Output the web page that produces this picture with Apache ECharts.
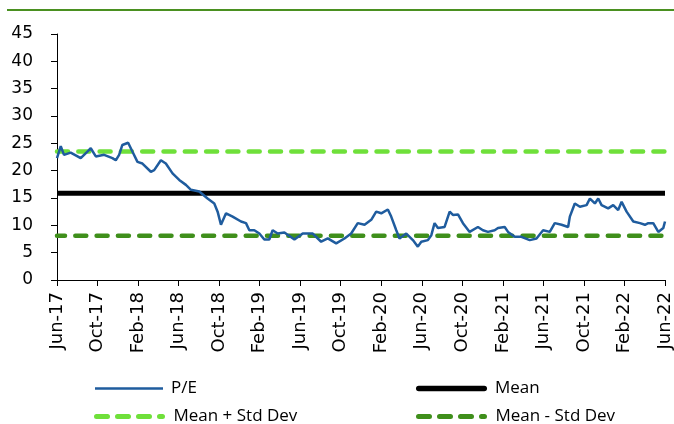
<!DOCTYPE html>
<html>
<head>
<meta charset="utf-8">
<style>
  html, body { margin: 0; padding: 0; background: #fff; }
  #chart { width: 674px; height: 424px; }
</style>
<script src="https://cdn.jsdelivr.net/npm/echarts@6/dist/echarts.min.js"></script>
</head>
<body>
<div id="chart"></div>
<script>
// Tick labels along the x axis, one every 4 months starting Jun-17
const tickLabels = ['Jun-17','Oct-17','Feb-18','Jun-18','Oct-18','Feb-19','Jun-19','Oct-19',
                    'Feb-20','Jun-20','Oct-20','Feb-21','Jun-21','Oct-21','Feb-22','Jun-22'];

// P/E observations: months elapsed since Jun-17, and the ratio
const peMonths = [0, 0.37, 0.69, 1.35, 2.34, 3.0, 3.33, 3.83, 4.65, 5.47, 5.8, 6.13, 6.45, 7.02, 7.44,
  7.94, 8.43, 9.26, 9.59, 10.25, 10.74, 11.4, 12.06, 12.72, 13.22, 14.04, 14.86, 15.52, 15.85, 16.18,
  16.68, 17.33, 18.16, 18.65, 18.98, 19.47, 19.97, 20.46, 20.95, 21.28, 21.78, 22.44, 23.43, 24.25,
  25.24, 26.07, 26.72, 27.55, 28.37, 29.03, 29.68, 30.35, 31.01, 31.5, 32.0, 32.65, 32.98, 33.48,
  33.8, 34.47, 35.12, 35.61, 35.95, 36.6, 36.94, 37.26, 37.59, 38.25, 38.75, 39.07, 39.57, 40.06,
  40.72, 41.54, 42.03, 42.53, 43.19, 43.52, 44.18, 44.51, 45.17, 45.83, 46.65, 47.32, 47.97, 48.63,
  49.12, 49.79, 50.44, 50.61, 51.1, 51.6, 52.26, 52.59, 53.08, 53.41, 53.74, 54.39, 54.89, 55.38,
  55.72, 56.21, 56.87, 57.53, 58.02, 58.35, 58.84, 59.34, 59.83, 60];
const peValues = [22.3, 24.5, 22.9, 23.3, 22.3, 23.5, 24.1, 22.6, 22.9, 22.3, 21.9, 22.9, 24.7, 25.1, 23.5,
  21.6, 21.3, 19.8, 20.1, 21.9, 21.3, 19.5, 18.3, 17.4, 16.5, 16.2, 14.9, 14.0, 12.5, 10.1,
  12.2, 11.6, 10.7, 10.4, 9.1, 9.1, 8.5, 7.4, 7.4, 9.1, 8.5, 8.7, 7.4, 8.5,
  8.5, 7.0, 7.6, 6.7, 7.6, 8.5, 10.4, 10.1, 11.0, 12.5, 12.2, 12.9, 11.6, 9.1,
  7.6, 8.5, 7.3, 6.1, 7.0, 7.3, 8.2, 10.4, 9.5, 9.7, 12.5, 11.9, 12.0, 10.4,
  8.8, 9.7, 9.1, 8.8, 9.1, 9.5, 9.7, 8.8, 7.9, 7.9, 7.3, 7.6, 9.1, 8.8,
  10.4, 10.1, 9.7, 11.6, 14.0, 13.4, 13.7, 14.9, 14.0, 14.9, 13.7, 13.1, 13.7, 12.8,
  14.3, 12.5, 10.7, 10.4, 10.1, 10.4, 10.4, 8.8, 9.5, 10.7];

// Reference levels
const meanValue = 15.85;
const upperBand = 23.5;
const lowerBand = 8.1;
const spanMonths = [0, 60];

const chart = echarts.init(document.getElementById('chart'), null, { renderer: 'canvas' });
const axisFont = '"DejaVu Sans", sans-serif';
const legendFont = '"Open Sans", "Liberation Sans", sans-serif';

const flat = v => spanMonths.map(m => [m, v]);

// Rounded bar path segment from x=a to x=b, height h
function pill(a, b, h) {
  const r = h / 2;
  return `M${a + r},0 H${b - r} A${r},${r} 0 0 1 ${b - r},${h} H${a + r} A${r},${r} 0 0 1 ${a + r},0 Z`;
}
const dashedIcon = 'path://' + [pill(0, 16, 5), pill(21, 37, 5), pill(42, 58, 5), pill(63, 71, 5)].join(' ');
const solidIcon = 'path://' + pill(0, 71, 5.5);

function legendAt(name, left, top, icon, w, h) {
  return {
    data: [{ name: name, icon: icon }], left: left, top: top, itemWidth: w, itemHeight: h, itemGap: 4,
    padding: 0,
    itemStyle: { borderWidth: 0 },
    textStyle: { fontFamily: legendFont, fontSize: 17, color: '#000', padding: [0, 0, 0, 3] },
    selectedMode: false
  };
}

chart.setOption({
  animation: false,
  backgroundColor: '#fff',
  graphic: [{
    type: 'line', shape: { x1: 7, y1: 10, x2: 674, y2: 10 },
    style: { stroke: '#4a9020', lineWidth: 2 }
  }],
  grid: { left: 57, right: 8, top: 34, bottom: 144, containLabel: false },
  legend: [
    legendAt('P/E', 95, 380, 'rect', 68, 2.5),
    legendAt('Mean', 416, 380, solidIcon, 71, 5.5),
    legendAt('Mean + Std Dev', 94, 408, dashedIcon, 72, 5),
    legendAt('Mean - Std Dev', 416, 408, dashedIcon, 72, 5)
  ],
  xAxis: {
    type: 'value', min: 0, max: 60, interval: 4,
    splitLine: { show: false },
    axisLine: { lineStyle: { color: '#000', width: 1 } },
    axisTick: { show: true, length: 6, lineStyle: { color: '#000' } },
    axisLabel: {
      rotate: 90, margin: 12, color: '#000', fontFamily: axisFont, fontSize: 18,
      formatter: v => tickLabels[Math.round(v / 4)] || ''
    }
  },
  yAxis: {
    type: 'value', min: 0, max: 45, interval: 5,
    splitLine: { show: false },
    axisLine: { show: true, lineStyle: { color: '#000', width: 1 } },
    axisTick: { show: true, length: 6, lineStyle: { color: '#000' } },
    axisLabel: { color: '#000', fontFamily: axisFont, fontSize: 17, margin: 24 }
  },
  series: [
    {
      name: 'P/E', type: 'line', symbol: 'none', z: 4,
      data: peMonths.map((m, i) => [m, peValues[i]]),
      lineStyle: { color: '#1f5c9e', width: 2.5 },
      itemStyle: { color: '#1f5c9e', borderWidth: 0 }
    },
    {
      name: 'Mean', type: 'line', symbol: 'none', z: 3,
      data: flat(meanValue),
      lineStyle: { color: '#000', width: 5 },
      itemStyle: { color: '#000', borderWidth: 0 }
    },
    {
      name: 'Mean + Std Dev', type: 'line', symbol: 'none', z: 3,
      data: flat(upperBand),
      lineStyle: { color: '#6fe03a', width: 4.5, type: [11, 10.3], cap: 'round' },
      itemStyle: { color: '#6fe03a', borderWidth: 0 }
    },
    {
      name: 'Mean - Std Dev', type: 'line', symbol: 'none', z: 3,
      data: flat(lowerBand),
      lineStyle: { color: '#3f8f1b', width: 4.5, type: [11, 10.3], cap: 'round', dashOffset: 3 },
      itemStyle: { color: '#3f8f1b', borderWidth: 0 }
    }
  ]
});
</script>
</body>
</html>
